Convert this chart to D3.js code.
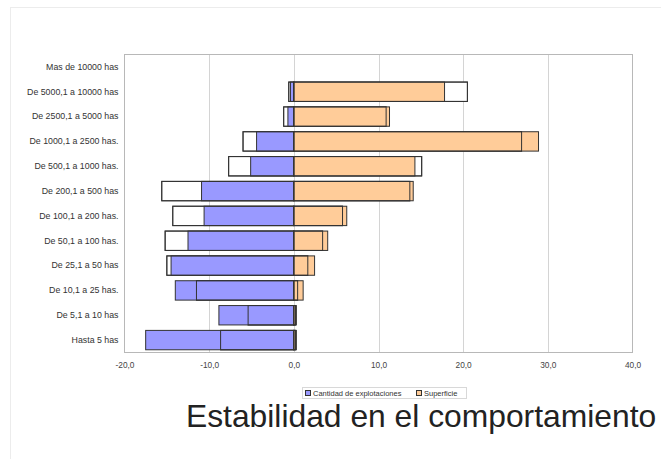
<!DOCTYPE html>
<html><head><meta charset="utf-8">
<script src="https://cdn.jsdelivr.net/npm/d3@7"></script>
<style>
html,body{margin:0;padding:0;background:#fff;}
svg{display:block;font-family:"Liberation Sans",Arial,sans-serif;}
</style></head>
<body>
<svg id="c" width="661" height="459"></svg>
<script>
const categories = ["Mas de 10000 has","De 5000,1 a 10000 has","De 2500,1 a 5000 has","De 1000,1 a 2500 has.","De 500,1 a 1000 has.","De 200,1 a 500 has","De 100,1 a 200 has.","De 50,1 a 100 has.","De 25,1 a 50 has","De 10,1 a 25 has.","De 5,1 a 10 has","Hasta 5 has"];
const cantidad       = [0, -0.4, -0.7, -4.4, -5.1, -10.9, -10.6, -12.5, -14.5, -14.0, -8.85, -17.5];
const cantidadPrev   = [0, -0.6, -1.2, -6.0, -7.7, -15.6, -14.3, -15.2, -15.0, -11.5, -5.4, -8.65];
const superficie     = [0, 17.8, 11.3, 28.9, 14.3, 14.1, 6.25, 4.0, 2.45, 1.1, 0.3, 0.3];
const superficiePrev = [0, 20.5, 10.9, 26.9, 15.1, 13.7, 5.75, 3.4, 1.65, 0.45, 0.2, 0.2];
const xTicks = [-20, -10, 0, 10, 20, 30, 40];
const legendLabels = ["Cantidad de explotaciones", "Superficie"];
const title = "Estabilidad en el comportamiento";

const svg = d3.select("#c");
// outer faint frame
svg.append("rect").attr("x",10.5).attr("y",7.5).attr("width",700).attr("height",600)
  .attr("fill","none").attr("stroke","#ececec");

const L=124.5, R=632.5, T=54.5, B=352.5;
const x = d3.scaleLinear().domain([-20,40]).range([L,R]);
const y = d3.scaleBand().domain(categories).range([T,B]).paddingInner(0.22).paddingOuter(0.11);

// gridlines
svg.append("g").selectAll("line").data(xTicks.filter(t=>t>-20&&t<40)).join("line")
  .attr("x1",d=>Math.round(x(d))+0.5).attr("x2",d=>Math.round(x(d))+0.5)
  .attr("y1",T).attr("y2",B).attr("stroke","#d4d4d4");
// frame
svg.append("rect").attr("x",L).attr("y",T).attr("width",R-L).attr("height",B-T)
  .attr("fill","none").attr("stroke","#b8b8b8");

const colBlue="#9999ff", colOrange="#ffcc99", stroke="#333";
function bars(vals, fill){
  return svg.append("g").selectAll("rect").data(vals.map((v,i)=>({v,c:categories[i]}))).join("rect")
    .attr("x",d=>x(Math.min(0,d.v))).attr("width",d=>Math.abs(x(d.v)-x(0)))
    .attr("y",d=>y(d.c)).attr("height",y.bandwidth())
    .attr("fill",fill).attr("stroke",stroke).attr("stroke-width",1)
    .style("display",d=>d.v===0?"none":null);
}
bars(cantidadPrev,"#fff");
bars(superficiePrev,"#fff");
bars(cantidad,colBlue);
bars(superficie,colOrange);
bars(cantidadPrev,"none");
bars(superficiePrev,"none");

// axis
const ax = svg.append("g").attr("transform",`translate(0,${B})`)
  .call(d3.axisBottom(x).tickValues(xTicks).tickSize(0).tickPadding(10)
    .tickFormat(d=>d3.format(".1f")(d).replace(".",",").replace("−","-")));
ax.select(".domain").remove();
ax.selectAll("text").attr("font-size",8.3).attr("fill","#444").attr("font-family","Liberation Sans, Arial, sans-serif");

// category labels
const ay = svg.append("g").attr("transform",`translate(${L},0)`)
  .call(d3.axisLeft(y).tickSize(0).tickPadding(6));
ay.select(".domain").remove();
ay.selectAll("text").attr("font-size",8.8).attr("fill","#333").attr("font-family","Liberation Sans, Arial, sans-serif");

// legend
const lg = svg.append("g");
lg.append("rect").attr("x",302.5).attr("y",387.5).attr("width",164).attr("height",11)
  .attr("fill","#fff").attr("stroke","#d8d8d8");
const items=[{t:legendLabels[0],c:colBlue,x:305},{t:legendLabels[1],c:colOrange,x:416}];
items.forEach(it=>{
  lg.append("rect").attr("x",it.x+0.5).attr("y",390.5).attr("width",5).attr("height",5)
    .attr("fill",it.c).attr("stroke",stroke);
  lg.append("text").attr("x",it.x+8).attr("y",396).attr("font-size",7.5).attr("fill","#333").text(it.t);
});

svg.append("text").attr("x",186).attr("y",427).attr("font-size",31.8).attr("fill","#222")
  .attr("font-family","Liberation Sans, Arial, sans-serif").text(title);
</script>
</body></html>
